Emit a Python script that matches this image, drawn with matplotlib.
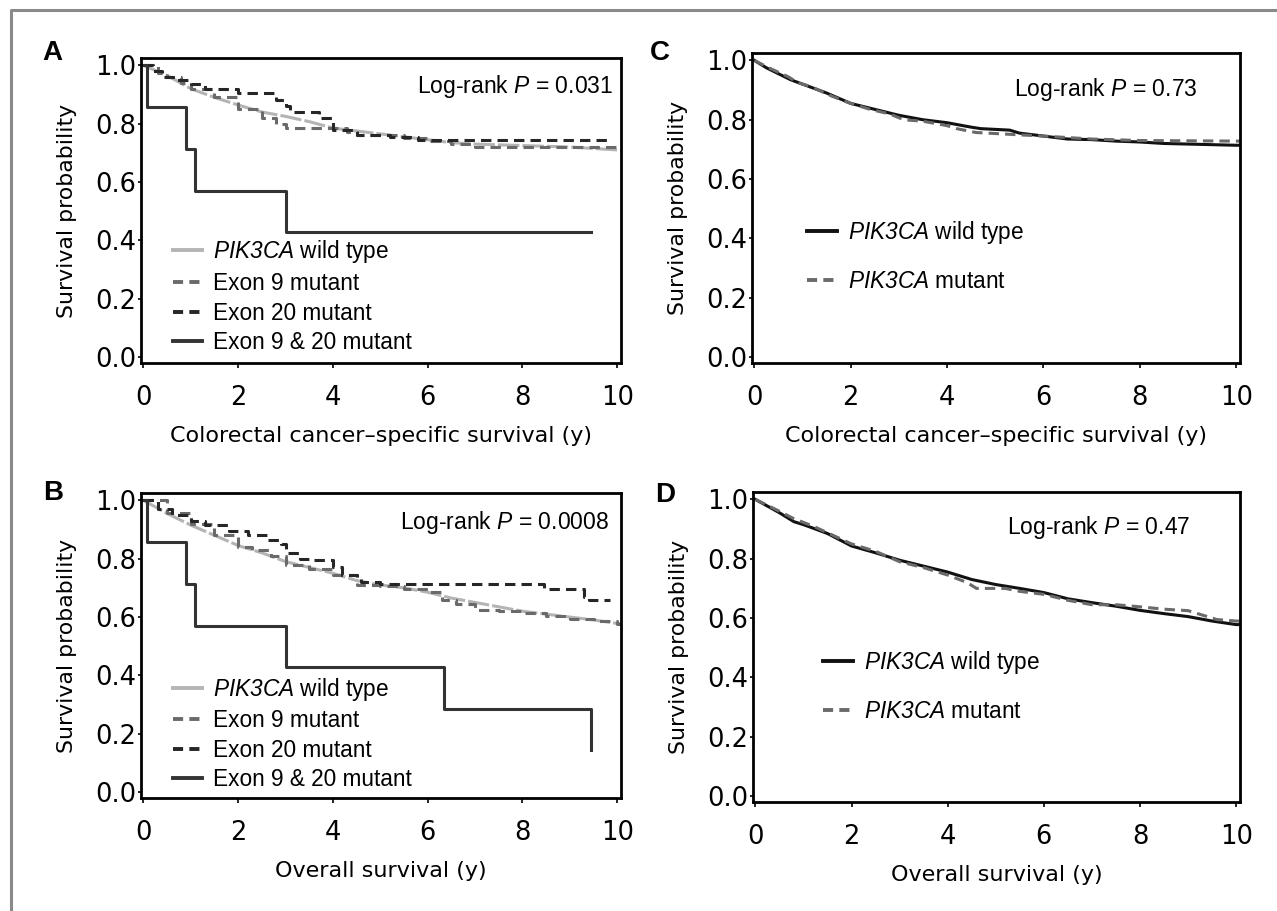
import numpy as np
import matplotlib
matplotlib.use('Agg')
import matplotlib.pyplot as plt
from matplotlib.lines import Line2D

plt.rcParams['font.family'] = ['DejaVu Sans']
# math text only used for the italic words (PIK3CA, P)
plt.rcParams['mathtext.fontset'] = 'custom'
plt.rcParams['mathtext.rm'] = 'Liberation Sans:italic'
plt.rcParams['mathtext.it'] = 'Liberation Sans:italic'

# ---------------- data ----------------
# A: colorectal cancer-specific survival, exon groups
a_wt_t = [0, 0.5, 1.0, 1.5, 2.0, 2.5, 3.0, 3.5, 4.0, 4.5, 5.0, 5.5, 6.0, 6.5, 7.0, 8.0, 9.0, 10.0, 10.08]
a_wt_s = [1.0, 0.965, 0.92, 0.89, 0.864, 0.84, 0.825, 0.807, 0.785, 0.775, 0.765, 0.755, 0.745, 0.735, 0.73, 0.725, 0.72, 0.71, 0.71]
a_e9_t = [0, 0.3, 0.5, 0.8, 1.0, 1.5, 2.0, 2.5, 2.8, 3.0, 4.3, 4.5, 5.5, 6.0, 6.5, 7.0, 10.0]
a_e9_s = [1.0, 0.975, 0.96, 0.94, 0.92, 0.89, 0.85, 0.82, 0.80, 0.785, 0.77, 0.76, 0.75, 0.74, 0.73, 0.72, 0.72]
a_e20_t = [0, 0.2, 0.4, 0.7, 1.0, 1.3, 2.0, 2.8, 3.0, 3.1, 3.7, 4.0, 4.5, 5.2, 5.8, 9.9]
a_e20_s = [1.0, 0.98, 0.96, 0.95, 0.935, 0.92, 0.905, 0.88, 0.86, 0.84, 0.82, 0.78, 0.76, 0.755, 0.745, 0.745]
a_e920_t = [0, 0.08, 0.9, 1.1, 3.0, 9.45]
a_e920_s = [1.0, 0.857, 0.714, 0.571, 0.429, 0.429]

# B: overall survival, exon groups
b_wt_t = [0, 0.5, 1.0, 1.5, 2.0, 2.5, 3.0, 3.5, 4.0, 4.5, 5.0, 5.5, 6.0, 6.5, 7.0, 7.5, 8.0, 8.5, 9.0, 9.5, 10.0, 10.08]
b_wt_s = [1.0, 0.955, 0.915, 0.88, 0.845, 0.82, 0.79, 0.77, 0.75, 0.725, 0.71, 0.70, 0.685, 0.665, 0.65, 0.635, 0.62, 0.61, 0.60, 0.59, 0.578, 0.578]
b_e9_t = [0, 0.5, 1.0, 1.5, 2.0, 2.3, 2.7, 3.0, 3.5, 4.0, 4.5, 5.0, 5.5, 6.0, 6.3, 6.6, 7.0, 7.5, 8.0, 8.5, 9.0, 9.5, 10.0, 10.08]
b_e9_s = [1.0, 0.955, 0.92, 0.88, 0.84, 0.83, 0.81, 0.78, 0.765, 0.745, 0.71, 0.705, 0.695, 0.685, 0.66, 0.645, 0.625, 0.62, 0.615, 0.605, 0.595, 0.585, 0.575, 0.575]
b_e20_t = [0, 0.3, 0.6, 1.0, 1.3, 1.8, 2.2, 2.6, 2.9, 3.0, 3.3, 3.6, 4.0, 4.2, 4.5, 4.6, 5.0, 8.45, 9.3, 9.4, 9.85]
b_e20_s = [1.0, 0.97, 0.95, 0.93, 0.915, 0.895, 0.88, 0.865, 0.85, 0.82, 0.80, 0.795, 0.77, 0.745, 0.73, 0.72, 0.713, 0.695, 0.67, 0.657, 0.657]
b_e920_t = [0, 0.08, 0.9, 1.1, 3.0, 6.35, 9.45, 9.45]
b_e920_s = [1.0, 0.857, 0.714, 0.571, 0.429, 0.286, 0.286, 0.143]

# C: colorectal cancer-specific survival, wild type vs mutant
c_wt_t = [0, 0.25, 0.5, 0.75, 1.0, 1.5, 2.0, 2.5, 3.0, 3.5, 4.0, 4.5, 4.7, 5.3, 5.5, 6.0, 6.5, 7.0, 7.5, 8.0, 8.5, 9.0, 9.5, 10.0, 10.08]
c_wt_s = [1.0, 0.975, 0.955, 0.935, 0.92, 0.89, 0.855, 0.835, 0.815, 0.80, 0.79, 0.775, 0.77, 0.765, 0.755, 0.745, 0.735, 0.733, 0.728, 0.725, 0.72, 0.718, 0.716, 0.714, 0.714]
c_mut_t = [0, 0.3, 0.7, 0.9, 1.2, 1.6, 2.0, 2.4, 2.8, 3.1, 3.5, 4.0, 4.2, 4.6, 5.4, 6.0, 6.5, 7.0, 8.0, 10.0, 10.08]
c_mut_s = [1.0, 0.975, 0.945, 0.925, 0.91, 0.88, 0.855, 0.835, 0.82, 0.80, 0.795, 0.78, 0.77, 0.757, 0.75, 0.745, 0.74, 0.735, 0.73, 0.728, 0.728]

# D: overall survival, wild type vs mutant
d_wt_t = [0, 0.5, 0.8, 1.0, 1.5, 2.0, 2.5, 3.0, 3.5, 4.0, 4.5, 5.0, 5.5, 6.0, 6.5, 7.0, 7.5, 8.0, 8.5, 9.0, 9.5, 10.0, 10.08]
d_wt_s = [1.0, 0.955, 0.925, 0.915, 0.885, 0.843, 0.82, 0.795, 0.775, 0.755, 0.73, 0.713, 0.70, 0.686, 0.665, 0.652, 0.64, 0.626, 0.615, 0.605, 0.59, 0.578, 0.578]
d_mut_t = [0, 0.5, 0.8, 1.2, 1.6, 2.0, 2.5, 3.0, 3.5, 4.0, 4.4, 4.6, 5.2, 5.5, 6.0, 6.5, 7.0, 7.5, 8.0, 8.5, 9.0, 9.3, 9.6, 10.0, 10.08]
d_mut_s = [1.0, 0.96, 0.935, 0.91, 0.88, 0.85, 0.825, 0.79, 0.77, 0.745, 0.72, 0.70, 0.70, 0.69, 0.68, 0.66, 0.645, 0.645, 0.638, 0.63, 0.625, 0.61, 0.595, 0.59, 0.59]

exon_labels = [r'$\mathrm{PIK3CA}$ wild type', 'Exon 9 mutant', 'Exon 20 mutant', 'Exon 9 & 20 mutant']
pik_labels = [r'$\mathrm{PIK3CA}$ wild type', r'$\mathrm{PIK3CA}$ mutant']
p_values = ['0.031', '0.0008', '0.73', '0.47']
x_labels = ['Colorectal cancer\u2013specific survival (y)', 'Overall survival (y)']
xticks = [0, 2, 4, 6, 8, 10]
yticks = [0.0, 0.2, 0.4, 0.6, 0.8, 1.0]

# ---------------- styles ----------------
W, H = 1277, 911
LW = 2.2
DASH = (0, (3.4, 2.0))
exon_styles = [
    dict(color='#b4b4b4', ls=(0, (7, 1.0)), steps=False),
    dict(color='#6a6a6a', ls=DASH, steps=True),
    dict(color='#262626', ls=DASH, steps=True),
    dict(color='#333333', ls='-', steps=True),
]
pik_styles = [
    dict(color='#111111', ls='-', steps=False),
    dict(color='#6a6a6a', ls=DASH, steps=False),
]

fig = plt.figure(figsize=(W / 100, H / 100), dpi=100)


def px_axes(left, top, right, bottom):
    return fig.add_axes([left / W, 1 - bottom / H, (right - left) / W, (bottom - top) / H])


def style_axes(ax, xlabel):
    ax.set_xlim(-0.05, 10.08)
    ax.set_ylim(-0.02, 1.025)
    ax.set_xticks(xticks)
    ax.set_yticks(yticks)
    ax.set_yticklabels(['%.1f' % v for v in yticks])
    for sp in ax.spines.values():
        sp.set_linewidth(2.0)
    ax.tick_params(axis='x', direction='out', length=3.5, width=1.2, pad=12, labelsize=18.5)
    ax.tick_params(axis='y', direction='out', length=2, width=1.2, pad=1.5, labelsize=18.5)
    ax.set_xlabel(xlabel, fontsize=16, labelpad=11)
    ax.set_ylabel('Survival probability', fontsize=15.8, labelpad=13)


def km(ax, t, s, st):
    ax.plot(t, s, drawstyle='steps-post' if st['steps'] else 'default',
            lw=LW, color=st['color'], ls=st['ls'])


# panel boxes in pixels (left, top, right, bottom)
ax_a = px_axes(141, 58, 621, 363)
ax_b = px_axes(141, 493, 621, 798)
ax_c = px_axes(752, 53, 1240, 363)
ax_d = px_axes(753, 492, 1240, 802)

# A
for (t, s), st in zip([(a_wt_t, a_wt_s), (a_e9_t, a_e9_s), (a_e20_t, a_e20_s), (a_e920_t, a_e920_s)], exon_styles):
    km(ax_a, t, s, st)
# B
for (t, s), st in zip([(b_wt_t, b_wt_s), (b_e9_t, b_e9_s), (b_e20_t, b_e20_s), (b_e920_t, b_e920_s)], exon_styles):
    km(ax_b, t, s, st)
# C
for (t, s), st in zip([(c_wt_t, c_wt_s), (c_mut_t, c_mut_s)], pik_styles):
    km(ax_c, t, s, st)
# D
for (t, s), st in zip([(d_wt_t, d_wt_s), (d_mut_t, d_mut_s)], pik_styles):
    km(ax_d, t, s, st)

style_axes(ax_a, x_labels[0])
style_axes(ax_b, x_labels[1])
style_axes(ax_c, x_labels[0])
style_axes(ax_d, x_labels[1])

leg_font = {'family': 'Liberation Sans', 'size': 16.3}
exon_handles = [Line2D([], [], lw=LW + 0.6, color=st['color'],
                       ls='-' if st['ls'] != DASH else (0, (2.6, 1.6))) for st in exon_styles]
pik_handles = [Line2D([], [], lw=LW + 0.6, color=st['color'],
                      ls='-' if st['ls'] != DASH else (0, (2.6, 1.6))) for st in pik_styles]

for ax, anchor, spacing in [(ax_a, (0.066, 0.41), 0.3), (ax_b, (0.066, 0.40), 0.28)]:
    ax.legend(exon_handles, exon_labels, loc='upper left', bbox_to_anchor=anchor, frameon=False,
              borderpad=0, borderaxespad=0, handlelength=1.3, handletextpad=0.5,
              labelspacing=spacing, prop=leg_font)
for ax, anchor in [(ax_c, (0.113, 0.465)), (ax_d, (0.144, 0.493))]:
    ax.legend(pik_handles, pik_labels, loc='upper left', bbox_to_anchor=anchor, frameon=False,
              borderpad=0, borderaxespad=0, handlelength=1.3, handletextpad=0.5,
              labelspacing=1.05, prop=leg_font)

# log-rank annotations
lr_font = dict(family='Liberation Sans', fontsize=16.5)
ax_a.text(0.983, 0.905, r'Log-rank $\mathrm{P}$ = ' + p_values[0], transform=ax_a.transAxes,
          ha='right', va='center', **lr_font)
ax_b.text(0.975, 0.902, r'Log-rank $\mathrm{P}$ = ' + p_values[1], transform=ax_b.transAxes,
          ha='right', va='center', **lr_font)
ax_c.text(0.725, 0.881, r'Log-rank $\mathrm{P}$ = ' + p_values[2], transform=ax_c.transAxes,
          ha='center', va='center', **lr_font)
ax_d.text(0.709, 0.884, r'Log-rank $\mathrm{P}$ = ' + p_values[3], transform=ax_d.transAxes,
          ha='center', va='center', **lr_font)

# panel letters
for letter, (x, y) in zip('ABCD', [(52, 53), (53, 493), (660, 53), (665, 495)]):
    fig.text(x / W, 1 - y / H, letter, ha='center', va='center', fontsize=20,
             fontweight='bold', family='Liberation Sans')

# grey frame on top and left
fig.add_artist(Line2D([11 / W, 11 / W, 1.0], [0.0, 1 - 10 / H, 1 - 10 / H],
                      transform=fig.transFigure, color='#8a8a8a', lw=2.2))

fig.savefig('out.png', dpi=100)
